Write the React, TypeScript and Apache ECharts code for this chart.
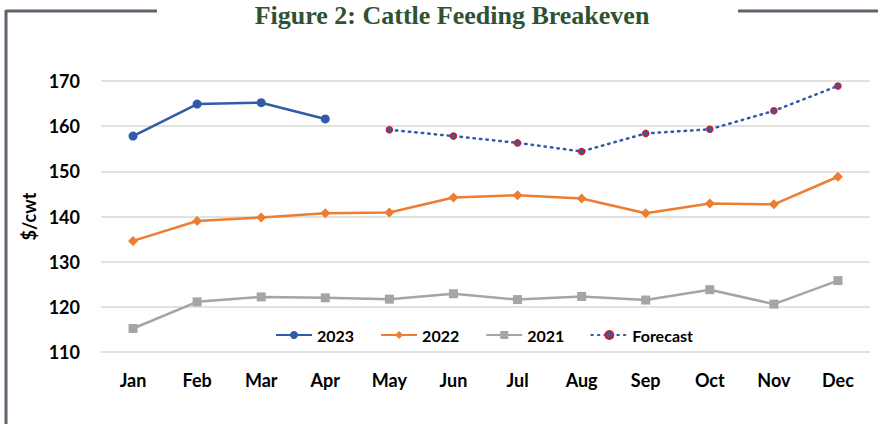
import React, { useEffect, useRef } from "react";
import * as echarts from "echarts";

const months = ["Jan", "Feb", "Mar", "Apr", "May", "Jun", "Jul", "Aug", "Sep", "Oct", "Nov", "Dec"];
const s2023: (number | null)[] = [157.8, 164.9, 165.2, 161.6, null, null, null, null, null, null, null, null];
const s2022: number[] = [134.6, 139.0, 139.8, 140.7, 140.9, 144.2, 144.7, 144.0, 140.7, 142.9, 142.7, 148.8];
const s2021: number[] = [115.2, 121.1, 122.2, 122.0, 121.7, 122.9, 121.6, 122.3, 121.5, 123.8, 120.6, 125.8];
const forecast: (number | null)[] = [null, null, null, null, 159.2, 157.8, 156.3, 154.4, 158.4, 159.3, 163.4, 168.9];

const FONT = "Lato";

export default function App() {
  const ref = useRef<HTMLDivElement>(null);
  useEffect(() => {
    if (!ref.current) return;
    const chart = echarts.init(ref.current, undefined, { renderer: "svg" });
    chart.setOption({
      animation: false,
      backgroundColor: "#ffffff",
      title: {
        text: "Figure 2: Cattle Feeding Breakeven",
        left: 447,
        textAlign: "center",
        top: -3,
        textStyle: {
          fontFamily: "Liberation Serif",
          fontWeight: "bold",
          fontSize: 26,
          color: "#2E5233",
        },
      },
      graphic: [
        { type: "line", shape: { x1: 6, y1: 11, x2: 157, y2: 11 }, style: { stroke: "#5C656D", lineWidth: 3 } },
        { type: "line", shape: { x1: 6, y1: 10, x2: 6, y2: 424 }, style: { stroke: "#5C656D", lineWidth: 3 } },
        { type: "line", shape: { x1: 738, y1: 11, x2: 878, y2: 11 }, style: { stroke: "#5C656D", lineWidth: 3 } },
      ],
      grid: { left: 101, right: 8, top: 81, bottom: 72 },
      legend: {
        left: 270,
        top: 322,
        itemWidth: 36,
        itemHeight: 10,
        itemGap: 26,
        textStyle: { fontFamily: FONT, fontWeight: "bold", fontSize: 16, color: "#000" },
        data: ["2023", "2022", "2021", "Forecast"],
      },
      xAxis: {
        type: "category",
        data: months,
        boundaryGap: true,
        axisLine: { show: false },
        axisTick: { show: false },
        axisLabel: { margin: 19, fontFamily: FONT, fontWeight: "bold", fontSize: 18, color: "#000" },
      },
      yAxis: {
        type: "value",
        min: 110,
        max: 170,
        interval: 10,
        name: "$/cwt",
        nameLocation: "middle",
        nameRotate: 90,
        nameGap: 60,
        nameTextStyle: { fontFamily: FONT, fontWeight: "bold", fontSize: 18, color: "#000" },
        axisLine: { show: false },
        axisTick: { show: false },
        axisLabel: { margin: 21, fontFamily: FONT, fontWeight: "bold", fontSize: 18, color: "#000" },
        splitLine: { lineStyle: { color: "#D9D9D9", width: 1.5 } },
      },
      series: [
        {
          name: "2023",
          type: "line",
          data: s2023,
          symbol: "circle",
          symbolSize: 9,
          lineStyle: { color: "#2F5BA8", width: 2.5 },
          itemStyle: { color: "#2F5BA8" },
        },
        {
          name: "2022",
          type: "line",
          data: s2022,
          symbol: "diamond",
          symbolSize: 10,
          lineStyle: { color: "#ED7D31", width: 2.5 },
          itemStyle: { color: "#ED7D31" },
        },
        {
          name: "2021",
          type: "line",
          data: s2021,
          symbol: "rect",
          symbolSize: 9,
          lineStyle: { color: "#A5A5A5", width: 2.5 },
          itemStyle: { color: "#A5A5A5" },
        },
        {
          name: "Forecast",
          type: "line",
          data: forecast,
          symbol: "circle",
          symbolSize: 6,
          lineStyle: { color: "#2F5BA8", width: 2.5, type: [1.5, 5], cap: "round" },
          itemStyle: { color: "#2F5BA8", borderColor: "#C8202E", borderWidth: 1.5 },
        },
      ],
    });
    return () => chart.dispose();
  }, []);
  return <div ref={ref} style={{ width: 878, height: 424, position: "absolute", left: 0, top: 0 }} />;
}
